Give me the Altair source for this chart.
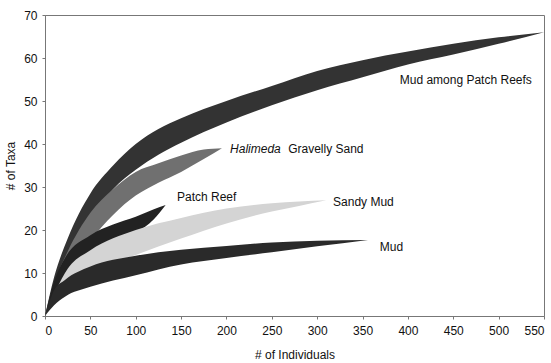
import altair as alt
import pandas as pd

# ---- data (upper / lower bounds of each rarefaction band)
mpr_x = [0, 10, 25, 50, 75, 100, 125, 150, 200, 250, 300, 350, 400, 450, 500, 550]
mpr_hi = [0, 9, 18, 28.5, 35, 40, 43.5, 46, 50, 53.5, 57, 59.5, 61.5, 63.3, 64.8, 66]
mpr_lo = [0, 6, 13, 22.5, 29.5, 34, 37.5, 40.3, 45, 49, 52.5, 55.5, 58.5, 60.8, 63.3, 66]

hgs_x = [0, 10, 25, 50, 75, 100, 125, 150, 175, 195]
hgs_hi = [0, 7.5, 15, 24, 29.5, 33.5, 35.5, 37.3, 38.7, 39]
hgs_lo = [0, 4.5, 10, 17.5, 23.5, 28, 31, 33.5, 36.5, 39]

pr_x = [0, 10, 22, 50, 75, 100, 120, 133]
pr_hi = [0, 8, 13.5, 18.8, 21.3, 23.1, 24.8, 25.8]
pr_lo = [0, 3.5, 7, 12.6, 16.3, 19.3, 22.5, 25.8]

sm_x = [0, 25, 50, 100, 150, 200, 250, 280, 310]
sm_hi = [0, 11, 15.3, 20, 22.8, 25, 26.2, 26.6, 26.9]
sm_lo = [0, 6, 10, 14.2, 18, 21.5, 24.3, 25.6, 26.9]

mud_x = [0, 10, 22, 50, 100, 150, 200, 250, 300, 356]
mud_hi = [0, 6, 8.4, 11.5, 14, 15.4, 16.3, 17.1, 17.5, 17.7]
mud_lo = [0, 2.5, 4.5, 6.8, 9.5, 12, 13.5, 14.8, 16.2, 17.7]

series_names = ["Mud among Patch Reefs", "Halimeda Gravelly Sand", "Patch Reef", "Sandy Mud", "Mud"]
series_colors = ["#333333", "#707070", "#222222", "#d4d4d4", "#2a2a2a"]

label_text = ["Mud among Patch Reefs", "Halimeda", "Gravelly Sand", "Patch Reef", "Sandy Mud", "Mud"]
label_x = [391, 204, 268, 145.5, 317.5, 369]
label_y = [54.9, 38.8, 38.8, 27.7, 26.5, 16.1]
label_style = ["normal", "italic", "normal", "normal", "normal", "normal"]

rows = []
for name, xs_, hi, lo in zip(
    series_names,
    [mpr_x, hgs_x, pr_x, sm_x, mud_x],
    [mpr_hi, hgs_hi, pr_hi, sm_hi, mud_hi],
    [mpr_lo, hgs_lo, pr_lo, sm_lo, mud_lo],
):
    for x, h, l in zip(xs_, hi, lo):
        rows.append({"series": name, "x": x, "hi": h, "lo": l})
df = pd.DataFrame(rows)
labels = pd.DataFrame({"t": label_text, "x": label_x, "y": label_y, "s": label_style})

xs = alt.Scale(domain=[0, 550], nice=False)
ys = alt.Scale(domain=[0, 70], nice=False)

bands = alt.Chart(df).mark_area(interpolate="monotone").encode(
    x=alt.X("x:Q", scale=xs, title="# of Individuals",
            axis=alt.Axis(values=list(range(0, 551, 50)), tickSize=3, labelPadding=6,
                          titlePadding=13)),
    y=alt.Y("hi:Q", scale=ys, title="# of Taxa",
            axis=alt.Axis(values=list(range(0, 71, 10)), tickSize=3, labelPadding=5,
                          titlePadding=6)),
    y2="lo:Q",
    color=alt.Color("series:N", scale=alt.Scale(domain=series_names, range=series_colors), legend=None),
    detail="series:N",
)

text_normal = alt.Chart(labels).transform_filter(alt.datum.s == "normal").mark_text(
    align="left", baseline="middle", fontSize=12, font="Liberation Sans", color="#111"
).encode(x=alt.X("x:Q", scale=xs), y=alt.Y("y:Q", scale=ys), text="t:N")

text_italic = alt.Chart(labels).transform_filter(alt.datum.s == "italic").mark_text(
    align="left", baseline="middle", fontSize=12, font="Liberation Sans", fontStyle="italic", color="#111"
).encode(x=alt.X("x:Q", scale=xs), y=alt.Y("y:Q", scale=ys), text="t:N")

chart = alt.layer(bands, text_normal, text_italic).properties(
    width=499, height=301,
    autosize=alt.AutoSizeParams(type="none"),
    padding={"left": 45, "top": 15, "right": 7, "bottom": 47},
).configure_view(
    stroke="#777", strokeWidth=1
).configure_axis(
    grid=False, domainColor="#777", tickColor="#777",
    labelFont="Liberation Sans", titleFont="Liberation Sans",
    labelFontSize=12, titleFontSize=12, titleFontWeight="normal",
    labelColor="#111", titleColor="#111",
)

chart.save("out.html", embed_options={"renderer": "svg", "actions": False})
